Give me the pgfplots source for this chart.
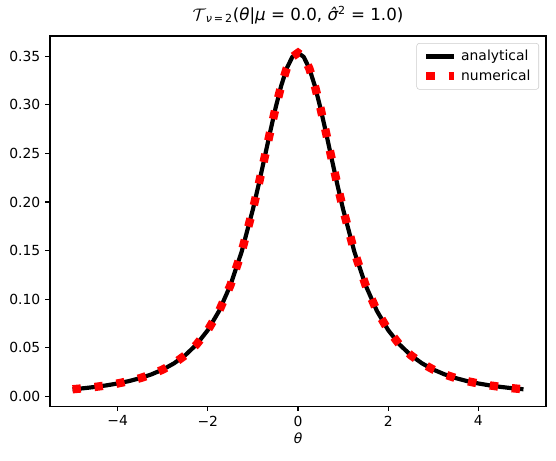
\documentclass[border=0pt]{standalone}
\usepackage{pgfplots}
\pgfplotsset{compat=1.18}
\usepackage{pgfplotstable}
\usepackage{fontspec}
\setmainfont{DejaVu Sans}
\pgfplotstableread{
x y
-5 0.007128
-4.75 0.008215
-4.5 0.009528
-4.25 0.011128
-4 0.013095
-3.75 0.01553
-3.5 0.01859
-3.25 0.02246
-3 0.02741
-2.75 0.03382
-2.5 0.04220
-2.25 0.05328
-2 0.06804
-1.75 0.08779
-1.5 0.11413
-1.25 0.14872
-1 0.19245
-0.875 0.21742
-0.75 0.24378
-0.625 0.27054
-0.5 0.29629
-0.375 0.31929
-0.25 0.33761
-0.125 0.34944
0 0.35355
0.125 0.34944
0.25 0.33761
0.375 0.31929
0.5 0.29629
0.625 0.27054
0.75 0.24378
0.875 0.21742
1 0.19245
1.25 0.14872
1.5 0.11413
1.75 0.08779
2 0.06804
2.25 0.05328
2.5 0.04220
2.75 0.03382
3 0.02741
3.25 0.02246
3.5 0.01859
3.75 0.01553
4 0.013095
4.25 0.011128
4.5 0.009528
4.75 0.008215
5 0.007128
}\tdata
\begin{document}
\begin{tikzpicture}
\path[use as bounding box] (-36pt,-38.9pt) rectangle (364.2pt,292.3pt);
\begin{axis}[
  at={(0,0)}, anchor=south west,
  scale only axis, width=357pt, height=266.4pt,
  xmin=-5.5, xmax=5.5, ymin=-0.0102, ymax=0.3709,
  xtick={-4,-2,0,2,4},
  xticklabels={−4,−2,0,2,4},
  ytick={0,0.05,0.1,0.15,0.2,0.25,0.3,0.35},
  yticklabel style={/pgf/number format/.cd, fixed, fixed zerofill, precision=2},
  /pgf/number format/assume math mode=true,
  tick label style={font=\fontsize{10}{12}\selectfont},
  tick pos=left,
  tick align=outside,
  major tick length=3.5pt,
  every tick/.style={black, line width=0.8pt},
  axis line style={line width=0.8pt},
  xlabel={\itshape θ},
  xlabel style={font=\fontsize{10}{12}\selectfont, yshift=2pt},
  title={$\mathcal{T}$\textsubscript{\itshape ν\upshape\,=\,2}(\itshape θ\upshape|\itshape μ\upshape\ =\ 0.0,\ \itshape\^{σ}\upshape\textsuperscript{2}\ =\ 1.0)},
  title style={font=\fontsize{12}{14}\selectfont, yshift=-1pt},
  legend cell align=left,
  legend style={at={(0.986,0.981)}, anchor=north east, draw=black!20, rounded corners=2pt,
    fill=white, font=\fontsize{10}{12}\selectfont, inner xsep=4pt, inner ysep=3pt,
    row sep=1pt},
  legend image code/.code={\draw[#1] (0pt,0pt) -- (20pt,0pt);},
]
\addplot[black, line width=3pt, line cap=butt, line join=round] table[x=x,y=y] {\tdata};
\addlegendentry{analytical}
\addplot[red, line width=6pt, line cap=butt, dash pattern=on 6pt off 9.9pt] table[x=x,y=y] {\tdata};
\addlegendentry{numerical}
\end{axis}
\end{tikzpicture}
\end{document}
